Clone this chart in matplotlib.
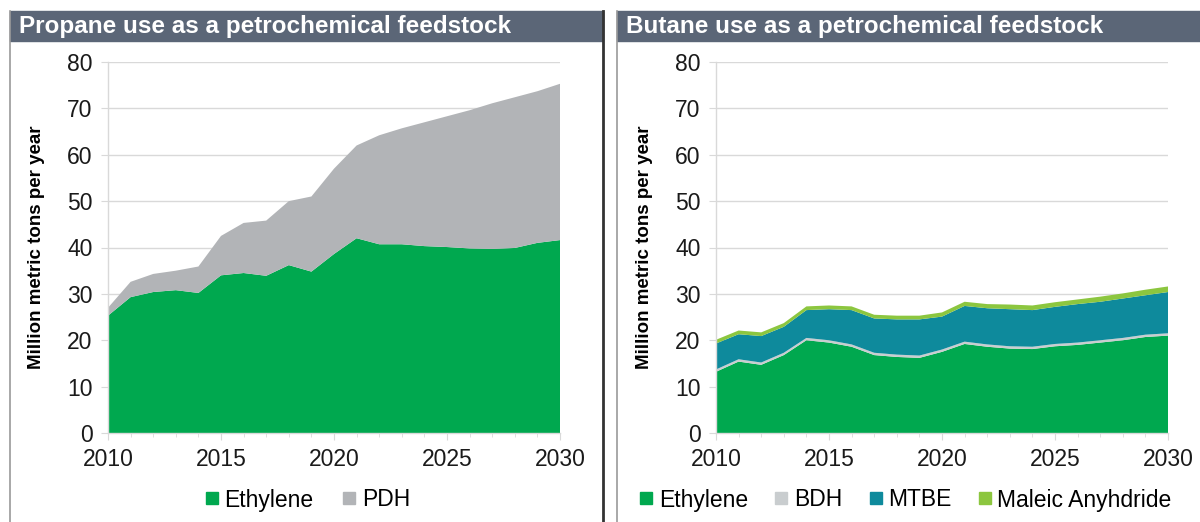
import numpy as np
import matplotlib
matplotlib.use("Agg")
import matplotlib.pyplot as plt
import matplotlib.lines as mlines
from matplotlib.patches import Rectangle

plt.rcParams["font.family"] = ["Liberation Sans", "DejaVu Sans"]

YEARS = list(range(2010, 2031))

# Propane feedstock demand (million metric tons per year)
PROPANE_ETHYLENE = [25.3, 29.3, 30.4, 30.8, 30.2, 34.0, 34.5, 33.9, 36.2, 34.8, 38.6,
                    42.0, 40.7, 40.7, 40.3, 40.1, 39.8, 39.7, 39.9, 41.0, 41.6]
PROPANE_TOTAL = [27.0, 32.6, 34.3, 35.0, 35.9, 42.5, 45.3, 45.8, 50.0, 51.0, 57.0,
                 62.0, 64.2, 65.7, 67.0, 68.3, 69.6, 71.1, 72.4, 73.7, 75.3]
PROPANE_PDH = [t - e for t, e in zip(PROPANE_TOTAL, PROPANE_ETHYLENE)]

# Butane feedstock demand (million metric tons per year)
BUTANE_ETHYLENE = [13.2, 15.4, 14.7, 16.8, 20.0, 19.5, 18.6, 16.8, 16.4, 16.2, 17.5,
                   19.2, 18.6, 18.2, 18.1, 18.7, 19.0, 19.5, 20.0, 20.7, 21.0]
BUTANE_BDH = [0.5] * 21
BUTANE_MTBE_TOP = [19.3, 21.3, 20.9, 22.9, 26.5, 26.7, 26.5, 24.7, 24.5, 24.5, 25.1,
                   27.4, 26.9, 26.7, 26.5, 27.2, 27.8, 28.3, 29.0, 29.7, 30.4]
BUTANE_MTBE = [m - e - b for m, e, b in zip(BUTANE_MTBE_TOP, BUTANE_ETHYLENE, BUTANE_BDH)]
BUTANE_MALEIC = [0.8, 0.8, 0.8, 0.8, 0.8, 0.8, 0.8, 0.8, 0.8, 0.8, 0.9,
                 0.9, 0.9, 1.0, 1.0, 1.0, 1.0, 1.1, 1.1, 1.2, 1.2]

C_ETHYLENE = "#00A84F"
C_PDH = "#B2B4B7"
C_BDH = "#C9CDCF"
C_MTBE = "#0E8A9C"
C_MALEIC = "#8CC63F"
BAR = "#5B6677"
GRID = "#D9D9D9"

W, H = 1200, 522
fig = plt.figure(figsize=(12, 5.22), dpi=100)


def fx(px):
    return px / W


def fy(py):
    return 1 - py / H


def panel(x0, x1, title):
    fig.add_artist(Rectangle((fx(x0), fy(41)), fx(x1 - x0), 30 / H,
                             transform=fig.transFigure, color=BAR, zorder=1))
    fig.text(fx(x0 + 9), fy(27), title, color="white", fontsize=17.5,
             fontweight="bold", va="center", ha="left")


def style_axes(ax):
    ax.set_xlim(2010, 2030)
    ax.set_ylim(0, 80)
    ax.set_yticks(range(0, 81, 10))
    ax.set_xticks(range(2010, 2031, 5))
    ax.set_xticks(YEARS, minor=True)
    ax.yaxis.grid(True, color=GRID, lw=1.0)
    ax.set_axisbelow(True)
    for s in ["top", "right"]:
        ax.spines[s].set_visible(False)
    for s in ["left", "bottom"]:
        ax.spines[s].set_color(GRID)
        ax.spines[s].set_linewidth(1.0)
    ax.tick_params(axis="both", which="both", color=GRID, labelsize=16.5,
                   labelcolor="#1a1a1a")
    ax.tick_params(axis="y", length=5, pad=6)
    ax.tick_params(axis="x", which="major", length=5, pad=6)
    ax.tick_params(axis="x", which="minor", length=3)
    ax.set_ylabel("Million metric tons per year", fontsize=13.5,
                  fontweight="bold", labelpad=16)


# left panel: propane
panel(10, 603, "Propane use as a petrochemical feedstock")
ax1 = fig.add_axes([fx(108), fy(433), fx(560 - 108), (433 - 62) / H])
ax1.stackplot(YEARS, PROPANE_ETHYLENE, PROPANE_PDH,
              colors=[C_ETHYLENE, C_PDH], lw=0)
style_axes(ax1)

# right panel: butane
panel(617, 1200, "Butane use as a petrochemical feedstock")
ax2 = fig.add_axes([fx(716), fy(433), fx(1168 - 716), (433 - 62) / H])
ax2.stackplot(YEARS, BUTANE_ETHYLENE, BUTANE_BDH, BUTANE_MTBE, BUTANE_MALEIC,
              colors=[C_ETHYLENE, C_BDH, C_MTBE, C_MALEIC], lw=0)
style_axes(ax2)

# panel borders
for x, c, w in [(10, "#9a9a9a", 1.2), (603, "#333333", 2.0), (617, "#9a9a9a", 1.2)]:
    fig.add_artist(mlines.Line2D([fx(x), fx(x)], [0, fy(11)], color=c, lw=w,
                                 transform=fig.transFigure))


def handles(labels, colors):
    return [mlines.Line2D([0], [0], marker="s", color="w", markerfacecolor=c,
                          markeredgecolor=c, ms=8, label=l)
            for l, c in zip(labels, colors)]


fig.legend(handles=handles(["Ethylene", "PDH"], [C_ETHYLENE, C_PDH]),
           loc="center", bbox_to_anchor=(fx(307), fy(500)), ncol=2, frameon=False,
           fontsize=16.5, handlelength=0.7, handletextpad=0.2, columnspacing=1.2)
fig.legend(handles=handles(["Ethylene", "BDH", "MTBE", "Maleic Anyhdride"],
                           [C_ETHYLENE, C_BDH, C_MTBE, C_MALEIC]),
           loc="center", bbox_to_anchor=(fx(905), fy(500)), ncol=4, frameon=False,
           fontsize=16.5, handlelength=0.7, handletextpad=0.2, columnspacing=1.1)

fig.savefig("out.png", dpi=100, facecolor="white")
